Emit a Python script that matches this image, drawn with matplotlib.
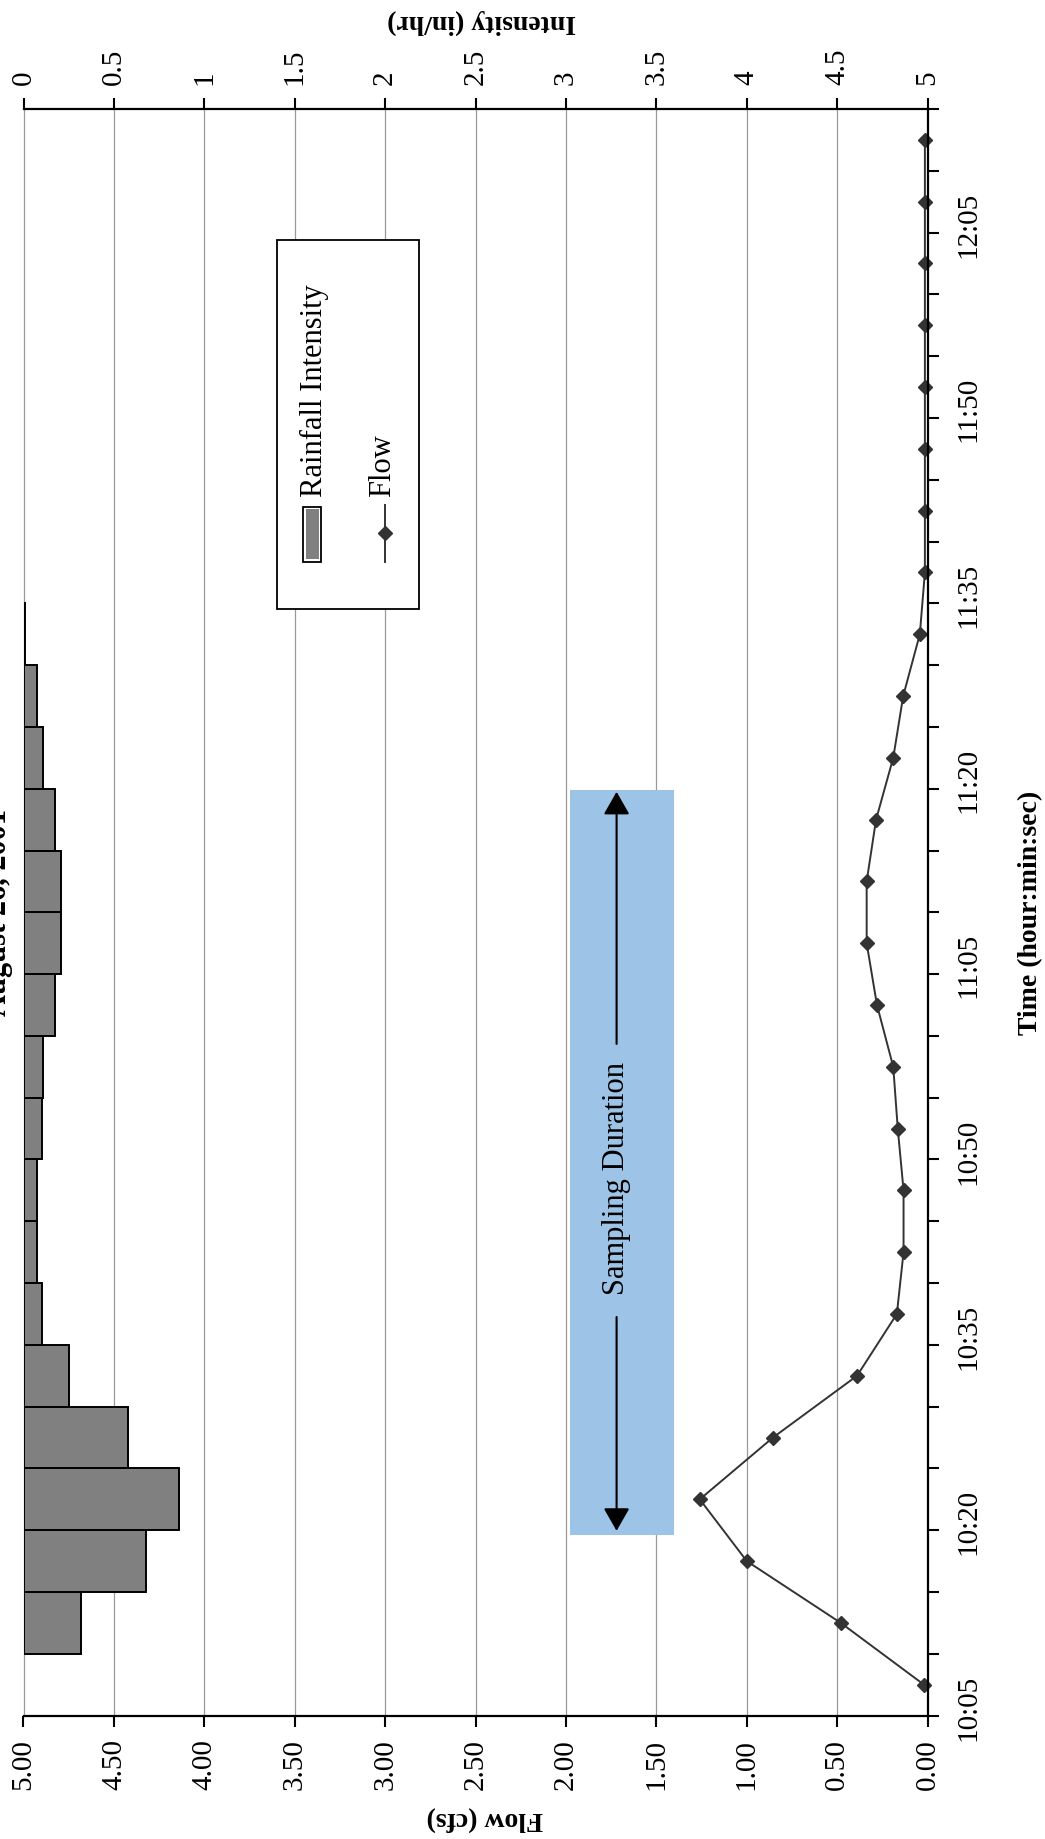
import numpy as np
import matplotlib
matplotlib.use("Agg")
import matplotlib.pyplot as plt
from matplotlib.patches import Rectangle
from matplotlib.lines import Line2D

plt.rcParams['font.family'] = ['Liberation Serif', 'DejaVu Serif']

# ---------------- data ----------------
times = ["10:05", "10:10", "10:15", "10:20", "10:25", "10:30", "10:35", "10:40",
         "10:45", "10:50", "10:55", "11:00", "11:05", "11:10", "11:15", "11:20",
         "11:25", "11:30", "11:35", "11:40", "11:45", "11:50", "11:55", "12:00",
         "12:05", "12:10"]
intensity = [0.0, 0.32, 0.68, 0.86, 0.58, 0.25, 0.10, 0.075, 0.075, 0.10,
             0.11, 0.175, 0.21, 0.21, 0.175, 0.11, 0.075, 0.01, 0.0, 0.0,
             0.0, 0.0, 0.0, 0.0, 0.0, 0.0]
flow = [0.02, 0.48, 1.00, 1.26, 0.855, 0.39, 0.17, 0.133, 0.133, 0.165,
        0.19, 0.28, 0.337, 0.337, 0.285, 0.19, 0.135, 0.043, 0.015, 0.015,
        0.015, 0.015, 0.015, 0.015, 0.015, 0.015]
flow_ticks = [0.0, 0.5, 1.0, 1.5, 2.0, 2.5, 3.0, 3.5, 4.0, 4.5, 5.0]
flow_ticklabels = ["0.00", "0.50", "1.00", "1.50", "2.00", "2.50", "3.00",
                   "3.50", "4.00", "4.50", "5.00"]
intensity_ticks = [0.0, 0.5, 1.0, 1.5, 2.0, 2.5, 3.0, 3.5, 4.0, 4.5, 5.0]
intensity_ticklabels = ["0", "0.5", "1", "1.5", "2", "2.5", "3", "3.5", "4",
                        "4.5", "5"]
# sampling window (category positions) and flow band of the highlight
sampling_window = [2.42, 14.48]
sampling_band = [1.40, 1.98]
arrow_flow = 1.72
label_pos = 8.2

# ---------------- figure ----------------
W, H = 1045, 1839
fig = plt.figure(figsize=(W / 100, H / 100), dpi=100)


def fx(x):
    return x / W


def fy(y):
    return 1 - y / H


L, R, T, B = 23.5, 927.6, 109.0, 1715.6
ax = fig.add_axes([fx(L), fy(B), (R - L) / W, (B - T) / H])
pos = np.arange(len(times))

ax.set_xlim(5, 0)
ax.set_ylim(-0.5, len(times) - 0.5)

# grid
ax.set_xticks(flow_ticks)
ax.set_xticklabels(flow_ticklabels, rotation=90, fontsize=21)
ax.grid(axis='x', color='#999999', lw=0.9)
ax.set_axisbelow(True)
ax.tick_params(axis='x', direction='out', length=8, width=1.5, pad=9)

# time axis on the right
ax.yaxis.tick_right()
ax.set_yticks(pos[::3])
ax.set_yticklabels(times[::3], rotation=90, fontsize=21)
ax.set_yticks(np.arange(-0.5, len(times)), minor=True)
ax.tick_params(axis='y', which='major', length=0, pad=20, left=False,
               right=True, labelleft=False, labelright=True)
ax.tick_params(axis='y', which='minor', length=8, width=1.5, direction='out',
               left=False, right=True)
for s in ax.spines.values():
    s.set_visible(False)

# sampling duration highlight
ax.add_patch(Rectangle((sampling_band[0], sampling_window[0]),
                       sampling_band[1] - sampling_band[0],
                       sampling_window[1] - sampling_window[0],
                       facecolor='#9dc3e6', edgecolor='none', zorder=1.5))
for y0, y1 in [(label_pos + 2.17, sampling_window[1] - 0.03),
               (label_pos - 2.25, sampling_window[0] + 0.07)]:
    ax.annotate('', xy=(arrow_flow, y1), xytext=(arrow_flow, y0),
                arrowprops=dict(arrowstyle='-|>,head_length=0.35,head_width=0.2',
                                color='black', lw=1.5, mutation_scale=40,
                                shrinkA=0, shrinkB=0), zorder=2)
ax.text(arrow_flow, label_pos, 'Sampling Duration', rotation=90, ha='center',
        va='center', fontsize=22, zorder=2)

# flow line
ax.plot(flow, pos, color='#333333', lw=1.4, marker='D', ms=7.5, zorder=3,
        clip_on=False)

# intensity axis (top)
ax2 = ax.twiny()
ax2.set_xlim(0, 5)
ax2.set_xticks(intensity_ticks)
ax2.set_xticklabels(intensity_ticklabels, rotation=90, fontsize=21)
ax2.tick_params(axis='x', direction='out', length=8, width=1.5, pad=9)
nz = [i for i, v in enumerate(intensity) if v > 0]
ax2.barh([pos[i] for i in nz], [intensity[i] for i in nz], height=1.0, left=0,
         color='#808080', edgecolor='black', linewidth=1.4, zorder=3)
for k in ['top', 'right', 'bottom']:
    ax2.spines[k].set_color('black')
    ax2.spines[k].set_linewidth(1.6)
ax2.spines['left'].set_color('#999999')
ax2.spines['left'].set_linewidth(0.9)

# axis titles
fig.text(fx(485), fy(1818), 'Flow (cfs)', rotation=180, ha='center',
         va='center', fontsize=20, fontweight='bold')
fig.text(fx(482), fy(22), 'Intensity (in/hr)', rotation=180, ha='center',
         va='center', fontsize=20, fontweight='bold')
fig.text(fx(1031), fy(913), 'Time (hour:min:sec)', rotation=90, ha='center',
         va='center', fontsize=20, fontweight='bold')
fig.text(fx(6), fy(912), 'August 26, 2001', rotation=90, rotation_mode='anchor',
         ha='center', va='baseline', fontsize=22, fontweight='bold')

# legend (drawn rotated by hand)
fig.add_artist(Rectangle((fx(277), fy(609)), (419 - 277) / W, (609 - 240) / H,
                         transform=fig.transFigure, facecolor='white',
                         edgecolor='black', lw=1.3, zorder=5))
fig.add_artist(Rectangle((fx(303), fy(562)), 18 / W, 55 / H,
                         transform=fig.transFigure, facecolor='white',
                         edgecolor='black', lw=1.3, zorder=6))
fig.add_artist(Rectangle((fx(305.5), fy(559.5)), 13 / W, 50 / H,
                         transform=fig.transFigure, facecolor='#808080',
                         edgecolor='none', zorder=6.5))
fig.add_artist(Line2D([fx(385), fx(385)], [fy(562), fy(505)],
                      transform=fig.transFigure, color='#333333', lw=1.4,
                      zorder=6))
fig.add_artist(Line2D([fx(385)], [fy(533)], transform=fig.transFigure,
                      color='#333333', marker='D', ms=7.5, lw=0, zorder=6))
fig.text(fx(314), fy(497), 'Rainfall Intensity', rotation=90,
         rotation_mode='anchor', ha='left', va='center', fontsize=22, zorder=7)
fig.text(fx(383), fy(497), 'Flow', rotation=90, rotation_mode='anchor',
         ha='left', va='center', fontsize=22, zorder=7)

fig.savefig('out.png', dpi=100)
